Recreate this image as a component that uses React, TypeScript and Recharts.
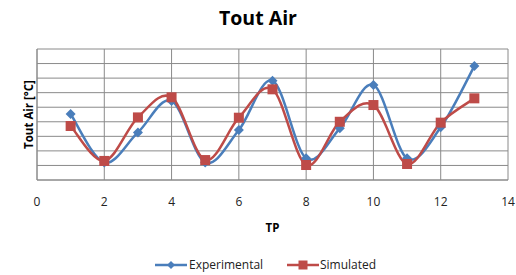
import React from "react";
import { LineChart, Line, XAxis, YAxis, CartesianGrid } from "recharts";

const tp = [1, 2, 3, 4, 5, 6, 7, 8, 9, 10, 11, 12, 13];
const experimental = [4.53, 1.2, 3.27, 5.43, 1.2, 3.43, 6.82, 1.49, 3.55, 6.53, 1.49, 3.62, 7.83];
const simulated = [3.71, 1.31, 4.3, 5.68, 1.37, 4.28, 6.23, 1.03, 4.0, 5.15, 1.1, 3.94, 5.61];
const xTicks = [0, 2, 4, 6, 8, 10, 12, 14];
const yTicks = [0, 1, 2, 3, 4, 5, 6, 7, 8, 9];

const data = tp.map((t, i) => ({ tp: t, exp: experimental[i], sim: simulated[i] }));

const BLUE = "#4A7EBB";
const RED = "#BE4B48";
const FONT = "'Open Sans', 'Noto Sans', sans-serif";
const MARGIN = { top: 49, right: 8, bottom: 65, left: 0 };
const X_AXIS_H = 30;
const CHART_H = 275;

function smoothCurve(context: any) {
  let pts: number[][] = [];
  return {
    areaStart() {},
    areaEnd() {},
    lineStart() {
      pts = [];
    },
    point(x: number, y: number) {
      pts.push([+x, +y]);
    },
    lineEnd() {
      if (!pts.length) return;
      context.moveTo(pts[0][0], pts[0][1]);
      for (let i = 0; i < pts.length - 1; i++) {
        const p0 = pts[i - 1] || pts[i];
        const p1 = pts[i];
        const p2 = pts[i + 1];
        const p3 = pts[i + 2] || pts[i + 1];
        const c1x = p1[0] + (p2[0] - p0[0]) / 6;
        const c1y = p1[1] + (p2[1] - p0[1]) / 6;
        const c2x = p2[0] - (p3[0] - p1[0]) / 6;
        const c2y = p2[1] - (p3[1] - p1[1]) / 6;
        context.bezierCurveTo(c1x, c1y, c2x, c2y, p2[0], p2[1]);
      }
    },
  };
}

const Diamond = (props: any) => {
  const { cx, cy } = props;
  if (cx == null || cy == null) return null;
  const r = 5;
  return (
    <polygon
      points={`${cx},${cy - r} ${cx + r},${cy} ${cx},${cy + r} ${cx - r},${cy}`}
      fill={BLUE}
    />
  );
};

const Square = (props: any) => {
  const { cx, cy } = props;
  if (cx == null || cy == null) return null;
  const s = 10;
  return <rect x={cx - s / 2} y={cy - s / 2} width={s} height={s} fill={RED} />;
};

const EmptyTick = () => <g />;

const legendText: React.CSSProperties = {
  position: "absolute",
  top: 257,
  fontFamily: FONT,
  fontSize: 12,
  lineHeight: "16px",
  color: "#222",
  whiteSpace: "nowrap",
};

const LegendBox = () => (
  <>
    <svg width={32} height={12} style={{ position: "absolute", left: 155, top: 259 }}>
      <line x1={0} y1={6} x2={32} y2={6} stroke={BLUE} strokeWidth={2.5} />
      <polygon points="16,2 20,6 16,10 12,6" fill={BLUE} />
    </svg>
    <span style={{ ...legendText, left: 189 }}>Experimental</span>
    <svg width={32} height={12} style={{ position: "absolute", left: 287, top: 259 }}>
      <line x1={0} y1={6} x2={32} y2={6} stroke={RED} strokeWidth={2.5} />
      <rect x={11.5} y={1.5} width={9} height={9} fill={RED} />
    </svg>
    <span style={{ ...legendText, left: 320 }}>Simulated</span>
  </>
);

const YLabel = () => {
  const cy = MARGIN.top + (CHART_H - MARGIN.top - MARGIN.bottom - X_AXIS_H) / 2;
  return (
    <text
      x={28}
      y={cy}
      transform={`rotate(-90, 28, ${cy})`}
      textAnchor="middle"
      dominantBaseline="central"
      fontFamily={FONT}
      fontSize={11.5}
      fontWeight="bold"
      fill="#000"
    >
      Tout Air [°C]
    </text>
  );
};

export default function App() {
  return (
    <div style={{ position: "absolute", left: 0, top: 0, width: 516, height: 275, background: "#fff" }}>
      <div
        style={{
          position: "absolute",
          left: 0,
          top: 4,
          width: 516,
          textAlign: "center",
          fontFamily: FONT,
          fontWeight: "bold",
          fontSize: 19.5,
          color: "#000",
        }}
      >
        Tout Air
      </div>
      <LineChart width={516} height={CHART_H} data={data} margin={MARGIN}>
        <CartesianGrid stroke="#8a8a8a" strokeWidth={1} />
        <XAxis
          dataKey="tp"
          type="number"
          domain={[0, 14]}
          ticks={xTicks}
          interval={0}
          height={X_AXIS_H}
          tickLine={false}
          axisLine={{ stroke: "#8a8a8a" }}
          tickSize={0}
          tickMargin={17}
          tick={{ fontFamily: FONT, fontSize: 12, fill: "#222" }}
          label={{
            value: "TP",
            position: "insideBottom",
            offset: -22,
            style: { fontFamily: FONT, fontSize: 11.5, fontWeight: "bold", fill: "#000" },
          }}
        />
        <YAxis
          type="number"
          domain={[0, 9]}
          ticks={yTicks}
          interval={0}
          width={37}
          tick={<EmptyTick />}
          tickLine={false}
          axisLine={{ stroke: "#8a8a8a" }}
          label={<YLabel />}
        />
        <Line
          dataKey="exp"
          name="Experimental"
          type={smoothCurve as any}
          stroke={BLUE}
          strokeWidth={2.5}
          dot={<Diamond />}
          activeDot={false}
          isAnimationActive={false}
        />
        <Line
          dataKey="sim"
          name="Simulated"
          type={smoothCurve as any}
          stroke={RED}
          strokeWidth={2.5}
          dot={<Square />}
          activeDot={false}
          isAnimationActive={false}
        />
      </LineChart>
      <LegendBox />
    </div>
  );
}
